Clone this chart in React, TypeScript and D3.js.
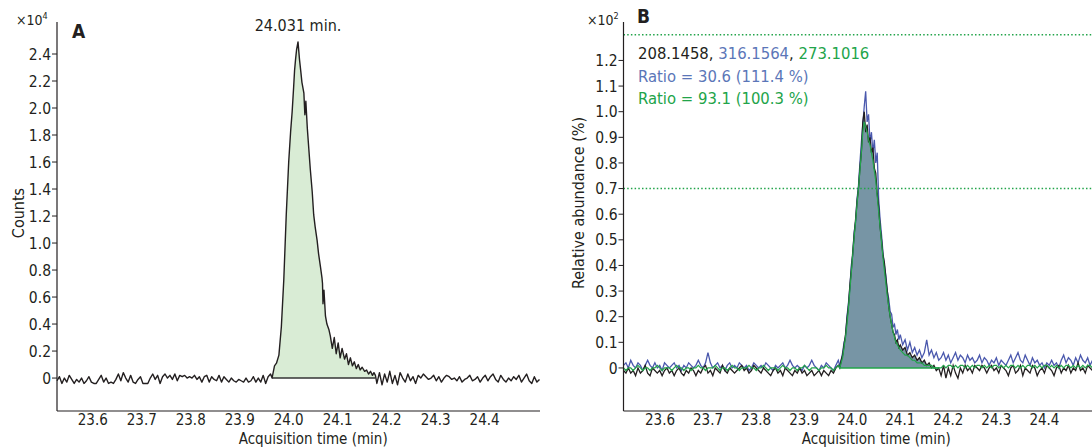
import React, { useEffect, useRef } from 'react';
import * as d3 from 'd3';

// tick labels
const timeTicks = [23.6, 23.7, 23.8, 23.9, 24.0, 24.1, 24.2, 24.3, 24.4];
const countTicks = [0, 0.2, 0.4, 0.6, 0.8, 1.0, 1.2, 1.4, 1.6, 1.8, 2.0, 2.2, 2.4];
const abundanceTicks = [0, 0.1, 0.2, 0.3, 0.4, 0.5, 0.6, 0.7, 0.8, 0.9, 1.0, 1.1, 1.2];

// ---------- panel A : counts, stored in hundreds of counts (x10^2)
const aLeftRange = [23.527, 23.963];
const aLeft = [-2, 1, -4, 0, -3, 2, -1, -4, -1, -3, 0, -4, -2, 1, -3, -4, -4, -1, 2, -3, 0, -4, -3, -4, -1, 3, -2, 4, 0, -3,
  2, -3, -4, -1, 1, -4, -4, -4, 0, 3, -1, 2, -4, 1, 3, 0, 2, -1, 3, -2, 2, 1, 2, 0, 1, 0, 2, -1, 1, -3,
  1, 2, -3, 1, -1, -2, 2, -3, 1, -1, -3, 0, -2, -3, -1, -2, -3, 0, -3, -2, 1, -3, 0, -3, 2, -4, 1, 3];
const aPeakTime = [23.966, 23.971, 23.975, 23.980, 23.985, 23.990, 23.995, 24.000, 24.004, 24.007, 24.010, 24.012, 24.014,
  24.016, 24.019, 24.022, 24.025, 24.027, 24.031, 24.033, 24.035, 24.038, 24.041, 24.044, 24.048, 24.051, 24.054, 24.058,
  24.061, 24.065, 24.068, 24.069, 24.070, 24.072, 24.075, 24.078, 24.082, 24.085, 24.089, 24.093, 24.097, 24.101, 24.105,
  24.109, 24.114, 24.118, 24.122, 24.126, 24.130, 24.134, 24.138, 24.142, 24.146, 24.150, 24.155, 24.159, 24.163, 24.167,
  24.171, 24.174, 24.177];
const aPeak = [0, 9, 11, 17, 38, 73, 121, 160, 183, 197, 215, 228, 236, 243, 249, 236, 226, 219, 211, 195, 205, 185, 170,
  155, 138, 121, 112, 102, 92, 82, 74, 70, 55, 65, 46, 40, 36, 31, 22, 30, 18, 26, 15, 22, 14, 18, 10, 15, 9, 12, 7, 10,
  6, 8, 5, 6, 3, 5, 2, 4, 2];
const aRightRange = [24.180, 24.512];
const aRight = [-4, 4, -5, 3, -3, 5, -4, 2, -5, 4, 0, -3, 3, -2, 1, -4, 2, 0, 3, 1, -1, 0, 2, -2, 1, -3, 0, 2, 1, -1,
  0, -2, 1, -3, -1, 0, 2, -2, -1, 1, -3, 0, 2, -2, 1, 3, -1, -3, 2, -1, -3, 0, -2, 1, -1, 2, -3, 0, 3, -2, -4, 1, -3, -1];
const aIntegration = [23.966, 24.177];
const aPeakLabel = '24.031 min.';

// ---------- panel B : relative abundance, stored in %
const bLeftRange = [23.524, 23.971];
const bBlackLeft = [-1, -2, 0, -2, -1, -3, 0, -2, -1, 1, -2, -3, 0, -1, -2, -1, -3, -1, 0, -2, -1, -3, -1, 0, -2, -3, -1, -2, 0, -1,
  -3, -1, -2, 0, 1, -2, -1, -3, 0, -1, -2, 1, -1, -2, 0, -1, -2, -1, 0, 1, -1, 0, -2, -1, 1, 0, -1, -2, 0, -1,
  -2, -3, -1, 0, -2, -1, -3, 0, -1, -2, -3, -1, -2, 0, -2, -1, -3, -2, -1, -3, -2, -1, -3, -1, -2, -3, -1, -2, 0, 1];
const bBlueLeft = [1, 2, 0, 3, 1, 0, 2, 1, -1, 1, 3, 1, 0, 2, 0, 1, -1, 2, 1, 0, 1, 2, 0, 1, -1, 1, 0, 2, 1, 0,
  1, 3, 1, 0, 2, 6, 2, 0, 1, 2, 0, 1, -1, 1, 2, 0, 1, 0, 2, 1, 0, 1, -1, 0, 2, 1, 0, 1, 0, 2,
  1, 0, -1, 1, 0, 1, 2, 0, 1, 3, 1, 0, 1, 0, -1, 1, 0, 1, 3, 1, 0, -1, 1, 0, 2, 1, 0, -1, 1, 3];
const bGreenLeft = [0, -1, 0, 0, -1, 0, 1, 0, -1, 0, 0, -1, 0, 0, 1, 0, -1, 0, 0, 0, -1, 0, 1, 0, 0, -1, 0, 0, -1, 0,
  0, 1, 0, 0, -1, 0, 0, 0, 1, 0, -1, 0, 0, -1, 0, 1, 0, 0, -1, 0, 0, 0, 1, 0, 0, -1, 0, 0, 1, 0,
  -1, 0, 0, 0, -1, 0, 1, 0, 0, -1, 0, 0, -1, 0, 0, 1, 0, -1, 0, 0, 0, -1, 0, 0, 1, 0, 0, -1, 0, 1];
const bPeakTime = [23.974, 23.977, 23.980, 23.983, 23.986, 23.989, 23.992, 23.995, 23.998, 24.001, 24.004, 24.007, 24.010,
  24.013, 24.016, 24.019, 24.022, 24.025, 24.028, 24.031, 24.034, 24.037, 24.040, 24.043, 24.046, 24.049, 24.052, 24.055,
  24.058, 24.061, 24.064, 24.067, 24.070, 24.073, 24.076, 24.079, 24.082, 24.085, 24.088, 24.091, 24.094, 24.097, 24.100,
  24.105, 24.110, 24.115, 24.120, 24.125, 24.130, 24.135, 24.140, 24.145, 24.150, 24.155, 24.160, 24.165, 24.170, 24.175, 24.180];
const bBlackPeak = [0, 3, 5, 9, 13, 19, 24, 32, 38, 45, 52, 58, 65, 70, 78, 84, 96, 100, 92, 95, 88, 90, 84, 86, 78, 76, 68,
  63, 55, 50, 44, 41, 35, 30, 24, 20, 17, 14, 13, 10, 11, 8, 9, 7, 8, 5, 6, 4, 5, 3, 4, 2, 3, 1, 2, 0, 1, -1, 0];
const bBluePeak = [1, 3, 6, 10, 12, 20, 25, 31, 40, 44, 53, 57, 66, 71, 80, 88, 95, 102, 108, 96, 99, 88, 92, 84, 89, 80, 84,
  66, 58, 52, 45, 40, 36, 30, 27, 22, 21, 16, 17, 13, 15, 11, 13, 9, 11, 7, 10, 6, 8, 5, 7, 4, 6, 11, 5, 7, 4, 6, 3];
const bGreenPeak = [0, 2, 4, 8, 12, 17, 23, 30, 37, 44, 51, 57, 64, 70, 77, 84, 92, 96, 94, 92, 89, 87, 84, 81, 77, 73, 67,
  61, 55, 49, 43, 38, 33, 28, 24, 20, 17, 14, 12, 10, 9, 8, 7, 6, 5, 5, 4, 3, 3, 2, 2, 2, 1, 1, 1, 1, 0, 0, 0];
const bRightRange = [24.185, 24.500];
const bBlackRight = [-3, 1, -4, 0, -3, 1, -2, -4, 0, -2, 1, -1, 0, -2, 1, 0, -1, 1, 0, -2, 0, 1, -1, 0, -2, 1, 0, -1, -3, 0,
  1, -2, -1, 1, -3, 0, -1, -2, 1, 0, -3, -1, 0, -2, 1, 0, -1, -3, 0, 1, -2, 0, -1, 1, -2, 0, -1, 2, -1, 0, -2, 1, 0, -1];
const bBlueRight = [4, 6, 3, 5, 2, 4, 6, 3, 5, 4, 2, 5, 3, 4, 2, 3, 5, 2, 4, 3, 1, 3, 2, 4, 1, 3, 2, 1, 3, 5,
  2, 4, 6, 3, 2, 5, 3, 1, 4, 2, 3, 1, 2, 0, 2, 1, 3, 1, 2, 0, 3, 5, 2, 4, 3, 1, 4, 2, 5, 3, 2, 4, 1, 3];
const bGreenRight = [0, 1, 0, 1, 1, 0, 1, 0, 1, 1, 0, 1, 0, 1, 0, 1, 1, 0, 1, 0, 1, 0, 1, 1, 0, 1, 0, 1, 0, 1,
  1, 0, 1, 0, 1, 0, 1, 1, 0, 1, 0, 1, 0, 1, 1, 0, 1, 0, 1, 0, 1, 0, 1, 1, 0, 1, 0, 1, 0, 1, 0, 1, 1, 0];
const bIntegration = [23.974, 24.180];
const bLimits = [1.3, 0.7];
const bMasses = ['208.1458', '316.1564', '273.1016'];
const bRatios = ['Ratio = 30.6 (111.4 %)', 'Ratio = 93.1 (100.3 %)'];

const FONT = "'Liberation Sans Narrow', 'DejaVu Sans Condensed', 'Roboto Condensed', Roboto, sans-serif";
const INK = '#231f20';
const BLUE = '#4a58ad';
const GREEN = '#22a44a';

type Pt = { t: number; v: number };

// spread readings over a time range (one reading per sample)
const spread = (range: number[], vals: number[], k: number): Pt[] =>
  vals.map((v, i) => ({ t: range[0] + (i * (range[1] - range[0])) / (vals.length - 1), v: v / k }));
const pair = (ts: number[], vals: number[], k: number): Pt[] => vals.map((v, i) => ({ t: ts[i], v: v / k }));

const fmtTick = (d: number) => (d === 0 ? '0' : d3.format('.1f')(d));

export default function App() {
  const ref = useRef<SVGSVGElement>(null);

  useEffect(() => {
    const svg = d3.select(ref.current);
    svg.selectAll('*').remove();

    const xA = d3.scaleLinear().domain([23.527, 24.513]).range([57, 540]);
    const yA = d3.scaleLinear().domain([-0.244, 2.637]).range([411, 22]);
    const xB = d3.scaleLinear().domain([23.524, 24.499]).range([623.5, 1092]);
    const yB = d3.scaleLinear().domain([-0.168, 1.35]).range([411, 22]);

    const axes = (x: any, y: any, yTicks: number[], yTitle: string, yTitleX: number, yTitleY: number, exp: string, expX: number) => {
      const g = svg.append('g').style('font-family', FONT).attr('fill', INK);
      const [x0, x1] = x.range();
      const [yb, yt] = y.range();
      g.append('line').attr('x1', x0).attr('x2', x0).attr('y1', yt).attr('y2', yb).attr('stroke', INK).attr('stroke-width', 1.2);
      g.append('line').attr('x1', x0).attr('x2', x1).attr('y1', yb).attr('y2', yb).attr('stroke', INK).attr('stroke-width', 1.2);
      g.append('g').selectAll('line').data(yTicks).join('line')
        .attr('x1', x0 - 5).attr('x2', x0).attr('y1', (d) => y(d)).attr('y2', (d) => y(d))
        .attr('stroke', INK).attr('stroke-width', 1);
      g.append('g').selectAll('text').data(yTicks).join('text')
        .attr('x', x0 - 6).attr('y', (d) => y(d)).attr('dy', '0.36em').attr('text-anchor', 'end')
        .style('font-size', '15.5px').text(fmtTick);
      g.append('g').selectAll('text').data(timeTicks).join('text')
        .attr('x', (d) => x(d)).attr('y', 425).attr('text-anchor', 'middle')
        .style('font-size', '15px').text((d) => d3.format('.1f')(d));
      g.append('text').attr('x', x(24.0) + 0.5 * (x(24.1) - x(24.0))).attr('y', 444).attr('text-anchor', 'middle')
        .style('font-size', '15px').text('Acquisition time (min)');
      g.append('text').attr('transform', `translate(${yTitleX},${yTitleY}) rotate(-90)`)
        .attr('text-anchor', 'middle').style('font-size', '16px').text(yTitle);
      const m = g.append('text').attr('x', expX).attr('y', 25).style('font-size', '14px');
      m.append('tspan').text('\u00d710');
      m.append('tspan').attr('dy', -6).style('font-size', '9px').text(exp);
    };

    // ---------- panel A
    const aTrace = [...spread(aLeftRange, aLeft, 100), ...pair(aPeakTime, aPeak, 100), ...spread(aRightRange, aRight, 100)];
    const aPk = pair(aPeakTime, aPeak, 100);
    svg.append('path')
      .attr('d', d3.area<Pt>().x((d) => xA(d.t)).y0(yA(0)).y1((d) => yA(Math.max(0, d.v)))(aPk) as string)
      .attr('fill', '#d9ecd5');
    svg.append('line').attr('x1', xA(aIntegration[0])).attr('x2', xA(aIntegration[1]))
      .attr('y1', yA(0)).attr('y2', yA(0)).attr('stroke', '#333').attr('stroke-width', 1.6);
    svg.append('path')
      .attr('d', d3.line<Pt>().x((d) => xA(d.t)).y((d) => yA(d.v))(aTrace) as string)
      .attr('fill', 'none').attr('stroke', INK).attr('stroke-width', 1.4).attr('stroke-linejoin', 'round');
    axes(xA, yA, countTicks, 'Counts', 24, 213, '4', 16);
    svg.append('text').attr('x', 72).attr('y', 38).style('font-family', FONT).style('font-weight', 'bold')
      .style('font-size', '19px').attr('fill', INK).text('A');
    svg.append('text').attr('x', xA(24.019)).attr('y', 31).attr('text-anchor', 'middle').style('font-family', FONT)
      .style('font-size', '16px').attr('fill', INK).text(aPeakLabel);

    // ---------- panel B
    const bBlack = [...spread(bLeftRange, bBlackLeft, 100), ...pair(bPeakTime, bBlackPeak, 100), ...spread(bRightRange, bBlackRight, 100)];
    const bBlue = [...spread(bLeftRange, bBlueLeft, 100), ...pair(bPeakTime, bBluePeak, 100), ...spread(bRightRange, bBlueRight, 100)];
    const bGreen = [...spread(bLeftRange, bGreenLeft, 100), ...pair(bPeakTime, bGreenPeak, 100), ...spread(bRightRange, bGreenRight, 100)];
    const bPk = pair(bPeakTime, bBlackPeak, 100);

    const clipB = svg.append('defs').append('clipPath').attr('id', 'clipB');
    clipB.append('rect').attr('x', 624).attr('y', 0).attr('width', 470).attr('height', 410);

    const pb = svg.append('g').attr('clip-path', 'url(#clipB)');
    pb.append('path')
      .attr('d', d3.area<Pt>().x((d) => xB(d.t)).y0(yB(0)).y1((d) => yB(Math.max(0, d.v)))(bPk) as string)
      .attr('fill', '#7795a5');
    pb.selectAll('line.lim').data(bLimits).join('line').attr('class', 'lim')
      .attr('x1', xB.range()[0]).attr('x2', 1092).attr('y1', (d) => yB(d)).attr('y2', (d) => yB(d))
      .attr('stroke', GREEN).attr('stroke-width', 1.5).attr('stroke-dasharray', '1.5,2.2');
    const lineB = d3.line<Pt>().x((d) => xB(d.t)).y((d) => yB(d.v));
    pb.append('path').attr('d', lineB(bBlue) as string).attr('fill', 'none').attr('stroke', BLUE).attr('stroke-width', 1.3);
    pb.append('path').attr('d', lineB(bBlack) as string).attr('fill', 'none').attr('stroke', INK).attr('stroke-width', 1.3);
    pb.append('path').attr('d', lineB(bGreen) as string).attr('fill', 'none').attr('stroke', GREEN).attr('stroke-width', 1.2);
    pb.append('line').attr('x1', xB(bIntegration[0])).attr('x2', xB(bIntegration[1]))
      .attr('y1', yB(0)).attr('y2', yB(0)).attr('stroke', GREEN).attr('stroke-width', 1.6);

    axes(xB, yB, abundanceTicks, 'Relative abundance (%)', 584, 203, '2', 587);
    svg.append('text').attr('x', 637).attr('y', 23).style('font-family', FONT).style('font-weight', 'bold')
      .style('font-size', '19px').attr('fill', INK).text('B');

    const lg = svg.append('g').style('font-family', FONT).style('font-size', '16.5px');
    const l1 = lg.append('text').attr('x', 638).attr('y', 59);
    l1.append('tspan').attr('fill', INK).text(bMasses[0] + ', ');
    l1.append('tspan').attr('fill', '#5b76b8').text(bMasses[1]);
    l1.append('tspan').attr('fill', INK).text(', ');
    l1.append('tspan').attr('fill', GREEN).text(bMasses[2]);
    lg.append('text').attr('x', 638).attr('y', 82).attr('fill', '#5b76b8').text(bRatios[0]);
    lg.append('text').attr('x', 638).attr('y', 104).attr('fill', GREEN).text(bRatios[1]);
  }, []);

  return (
    <svg ref={ref} width={1092} height={448}
      style={{ position: 'absolute', left: 0, top: 0, background: '#fff', display: 'block' }} />
  );
}
